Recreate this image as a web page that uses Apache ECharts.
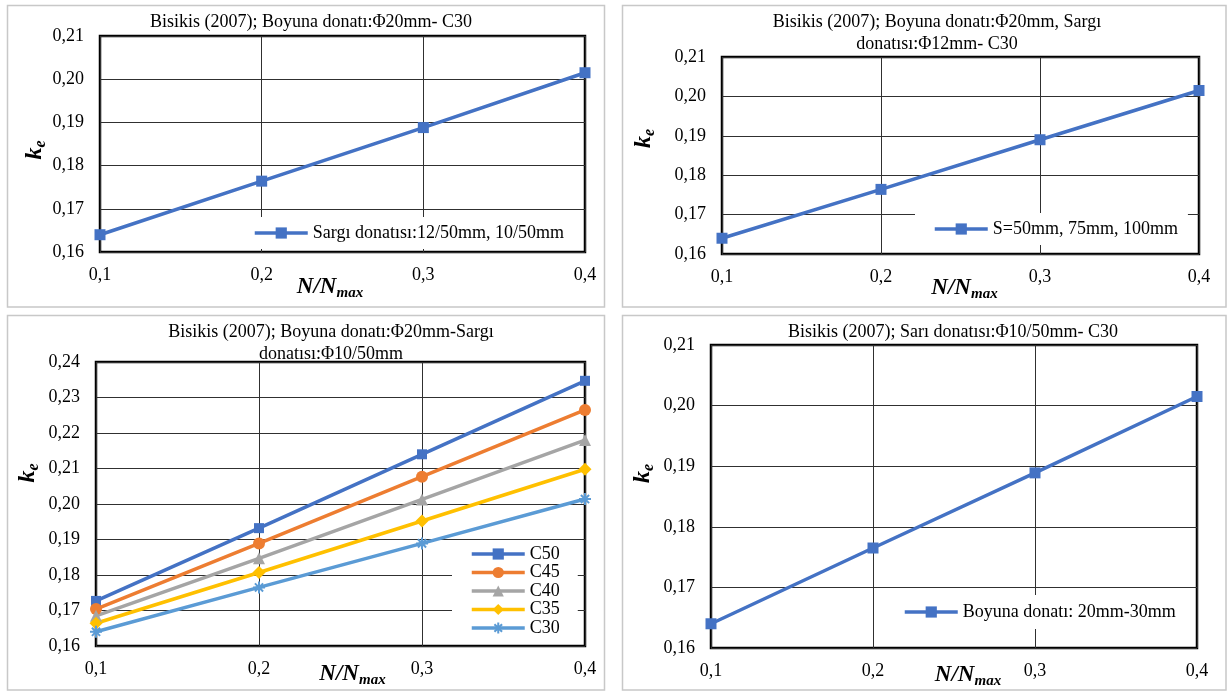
<!DOCTYPE html>
<html>
<head>
<meta charset="utf-8">
<script src="https://cdn.jsdelivr.net/npm/echarts@6/dist/echarts.min.js"></script>
<style>
html,body{margin:0;padding:0;background:#fff;}
#chart{width:1229px;height:693px;}
</style>
</head>
<body>
<div id="chart"></div>
<script>
// ---- data ----
const xLabels = ['0,1', '0,2', '0,3', '0,4'];
const titles = [
  'Bisikis (2007); Boyuna donatı:Φ20mm- C30',
  'Bisikis (2007); Boyuna donatı:Φ20mm, Sargı\ndonatısı:Φ12mm- C30',
  'Bisikis (2007); Boyuna donatı:Φ20mm-Sargı\ndonatısı:Φ10/50mm',
  'Bisikis (2007); Sarı donatısı:Φ10/50mm- C30'
];
const p1Name = 'Sargı donatısı:12/50mm, 10/50mm';
const p1Values = [0.1640, 0.1764, 0.1888, 0.2015];
const p2Name = 'S=50mm, 75mm, 100mm';
const p2Values = [0.1640, 0.1764, 0.1890, 0.2015];
const p3Names = ['C50', 'C45', 'C40', 'C35', 'C30'];
const c50 = [0.1727, 0.1932, 0.2140, 0.2347];
const c45 = [0.1704, 0.1889, 0.2077, 0.2265];
const c40 = [0.1685, 0.1847, 0.2013, 0.2180];
const c35 = [0.1664, 0.1807, 0.1952, 0.2098];
const c30 = [0.1640, 0.1765, 0.1889, 0.2014];
const p4Name = 'Boyuna donatı: 20mm-30mm';
const p4Values = [0.1640, 0.1765, 0.1889, 0.2015];

// ---- styles ----
const FONT = 'Liberation Serif';
const BLUE = '#4472C4';
const colors3 = ['#4472C4', '#ED7D31', '#A5A5A5', '#FFC000', '#5B9BD5'];
const ASTER = 'path://M0,5L10,5M5,0L5,10M1.6,1.6L8.4,8.4M8.4,1.6L1.6,8.4';
const symbols3 = ['rect', 'circle', 'triangle', 'diamond', ASTER];
const symSize3 = [10, 12, 12, 13, 12];
const p3Values = [c50, c45, c40, c35, c30];

const grids = [
  {left: 100, top: 36, width: 485, height: 216},
  {left: 722, top: 57, width: 477, height: 197},
  {left: 96, top: 362, width: 489, height: 284},
  {left: 711, top: 345, width: 486, height: 303}
];
const yRanges = [[0.16, 0.21], [0.16, 0.21], [0.16, 0.24], [0.16, 0.21]];
const xNameGap = [21, 20, 14, 13];
const xNamePad = [[0, 25, 0, 0], [0, 0, 0, 8], [0, 0, 0, 24], [0, 0, 0, 28]];
const yNameGap = [51, 64, 54, 54];
const yNamePad = [[0, 12, 0, 0], [0, 0, 0, 34], [0, 0, 0, 62], [0, 0, 0, 46]];
const titlePos = [[311, 11], [937, 11], [331, 321], [953, 321]];

const nameRichX = {
  n: {fontFamily: FONT, fontSize: 23, fontWeight: 'bold', fontStyle: 'italic', color: '#000'},
  s: {fontFamily: FONT, fontSize: 15, fontWeight: 'bold', fontStyle: 'italic', color: '#000', padding: [13, 0, 0, 0]}
};
const nameRichY = {
  k: {fontFamily: FONT, fontSize: 24, fontWeight: 'bold', fontStyle: 'italic', color: '#000'},
  e: {fontFamily: FONT, fontSize: 16, fontWeight: 'bold', fontStyle: 'italic', color: '#000', padding: [12, 0, 0, 0]}
};

const xAxes = grids.map((g, i) => ({
  type: 'category', gridIndex: i, data: xLabels, boundaryGap: false,
  axisLine: {show: false}, axisTick: {show: false},
  axisLabel: {fontFamily: FONT, fontSize: 18, color: '#000', margin: 14},
  splitLine: {show: true, interval: 0, lineStyle: {color: '#303030', width: 1}},
  name: '{n|N/N}{s|max}', nameLocation: 'middle', nameGap: xNameGap[i], nameMoveOverlap: false,
  nameTextStyle: {rich: nameRichX, padding: xNamePad[i]}
}));
const yAxes = grids.map((g, i) => ({
  type: 'value', gridIndex: i, min: yRanges[i][0], max: yRanges[i][1], interval: 0.01,
  axisLine: {show: false}, axisTick: {show: false},
  axisLabel: {fontFamily: FONT, fontSize: 18, color: '#000', margin: 16,
    formatter: v => v.toFixed(2).replace('.', ',')},
  splitLine: {show: true, lineStyle: {color: '#303030', width: 1}},
  name: '{k|k}{e|e}', nameLocation: 'middle', nameGap: yNameGap[i], nameRotate: 90, nameMoveOverlap: false,
  nameTextStyle: {rich: nameRichY, padding: yNamePad[i]}
}));

function single(name, values, idx) {
  return {
    name: name, type: 'line', xAxisIndex: idx, yAxisIndex: idx, data: values,
    symbol: 'rect', symbolSize: 11, lineStyle: {color: BLUE, width: 3.5},
    itemStyle: {color: BLUE, borderWidth: 0}, animation: false, z: 3
  };
}
const series = [
  single(p1Name, p1Values, 0),
  single(p2Name, p2Values, 1),
  single(p4Name, p4Values, 3)
];
p3Names.forEach((n, k) => {
  const isAst = k === 4;
  series.push({
    name: n, type: 'line', xAxisIndex: 2, yAxisIndex: 2, data: p3Values[k],
    symbol: symbols3[k], symbolSize: symSize3[k],
    lineStyle: {color: colors3[k], width: 3.5},
    itemStyle: isAst ? {color: colors3[k], borderColor: colors3[k], borderWidth: 2}
                     : {color: colors3[k], borderWidth: 0},
    animation: false, z: 3
  });
});

const legendBase = {
  orient: 'horizontal', backgroundColor: '#fff', itemWidth: 53, itemHeight: 14,
  textStyle: {fontFamily: FONT, fontSize: 18, color: '#000', lineHeight: 18},
  lineStyle: {width: 3.5},
  selectedMode: false, z: 4
};

const option = {
  backgroundColor: '#fff',
  animation: false,
  title: titles.map((t, i) => ({
    text: t, left: titlePos[i][0], top: titlePos[i][1], textAlign: 'center', padding: 0,
    textStyle: {fontFamily: FONT, fontSize: 18, fontWeight: 'normal', color: '#000', lineHeight: 22}
  })),
  grid: grids.map(g => Object.assign({show: true, borderColor: '#000', borderWidth: 2.5,
    backgroundColor: 'transparent', containLabel: false, outerBoundsMode: 'none'}, g)),
  xAxis: xAxes,
  yAxis: yAxes,
  legend: [
    Object.assign({}, legendBase, {data: [p1Name], left: 245, top: 217, padding: [7, 8, 7, 8]}),
    Object.assign({}, legendBase, {data: [p2Name], left: 915, top: 213, padding: [7, 10, 7, 18]}),
    Object.assign({}, legendBase, {data: p3Names, orient: 'vertical', left: 452, top: 542,
      itemGap: 0.5, itemHeight: 14, padding: [3, 18, 3, 18]}),
    Object.assign({}, legendBase, {data: [p4Name], left: 891, top: 595, padding: [8, 12, 8, 12]})
  ],
  graphic: [
    {type: 'rect', shape: {x: 7.5, y: 5.5, width: 597, height: 301.5}, style: {fill: 'none', stroke: '#c8c8c8', lineWidth: 1.5}, silent: true},
    {type: 'rect', shape: {x: 622.5, y: 5.5, width: 603.5, height: 301.5}, style: {fill: 'none', stroke: '#c8c8c8', lineWidth: 1.5}, silent: true},
    {type: 'rect', shape: {x: 7.5, y: 315.5, width: 597, height: 374.5}, style: {fill: 'none', stroke: '#c8c8c8', lineWidth: 1.5}, silent: true},
    {type: 'rect', shape: {x: 622.5, y: 315.5, width: 603.5, height: 374.5}, style: {fill: 'none', stroke: '#c8c8c8', lineWidth: 1.5}, silent: true}
  ],
  series: series
};

const chart = echarts.init(document.getElementById('chart'), null, {renderer: 'canvas'});
chart.setOption(option);
</script>
</body>
</html>
